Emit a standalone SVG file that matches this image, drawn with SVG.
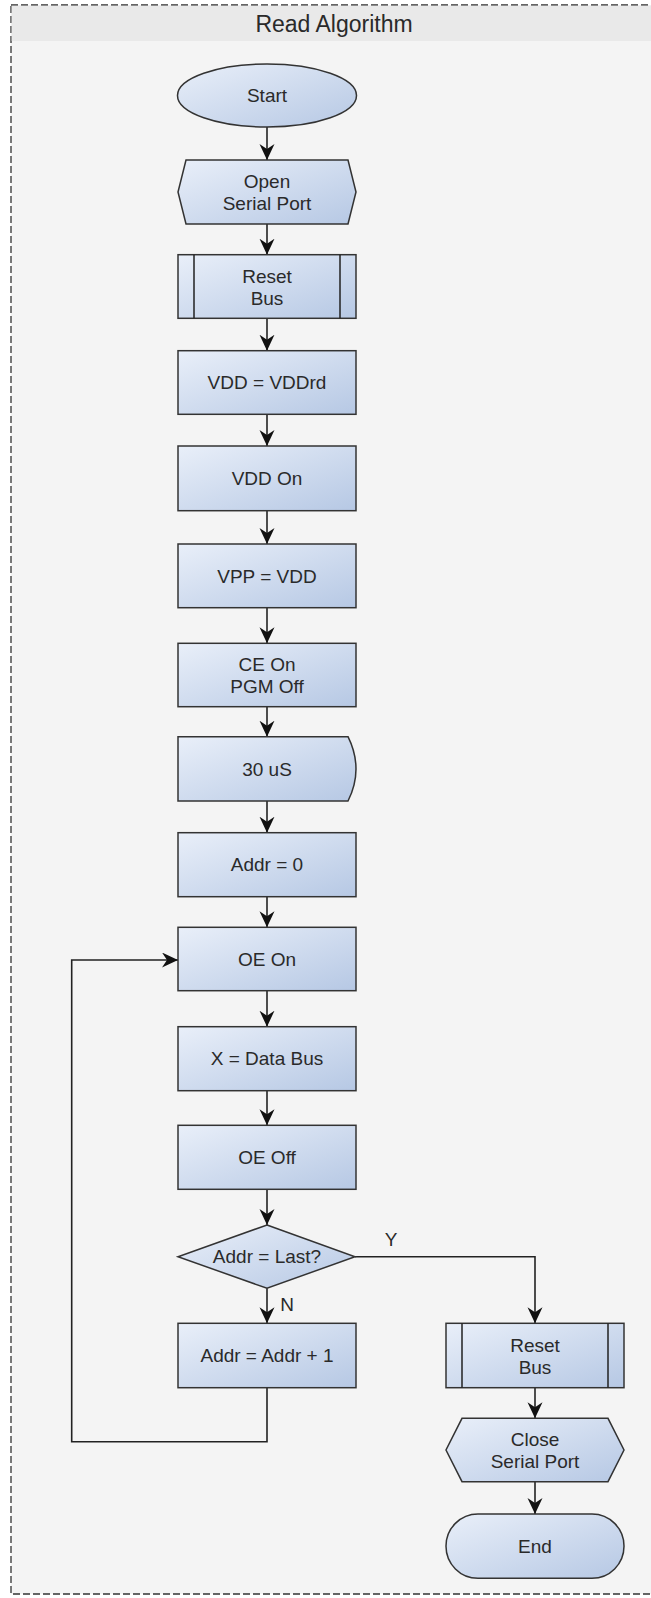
<svg xmlns="http://www.w3.org/2000/svg" width="651" height="1598" viewBox="0 0 651 1598">
<defs>
<linearGradient id="g" x1="0" y1="0" x2="1" y2="1">
<stop offset="0" stop-color="#e9eff9"/>
<stop offset="1" stop-color="#b6c8e4"/>
</linearGradient>
<marker id="ah" markerUnits="userSpaceOnUse" markerWidth="18" markerHeight="16" refX="16" refY="7.5" orient="auto">
<path d="M0,0 L16,7.5 L0,15 L5,7.5 Z" fill="#111"/>
</marker>
<style>
.n{fill:url(#g);stroke:#333;stroke-width:1.5}
.t{font-family:"Liberation Sans",Arial,sans-serif;font-size:19px;fill:#2a2a2a;text-anchor:middle}
.c{fill:none;stroke:#222;stroke-width:1.5}
.ca{fill:none;stroke:#222;stroke-width:1.6;marker-end:url(#ah)}
</style>
</defs>
<rect x="0" y="0" width="651" height="1598" fill="#ffffff"/>
<g id="container">
<rect x="11" y="5" width="700" height="1589" fill="#f4f4f4" stroke="#333" stroke-width="1.3" stroke-dasharray="7 3"/>
<rect x="11.7" y="5.7" width="700" height="35.3" fill="#e9e9e9"/>
<text x="334" y="32" font-family="'Liberation Sans',Arial,sans-serif" font-size="23" fill="#2a2a2a" text-anchor="middle">Read Algorithm</text>
</g>
<g id="connectors">
<path class="ca" d="M267,127 V160"/>
<path class="ca" d="M267,224 V254.7"/>
<path class="ca" d="M267,318.3 V350.7"/>
<path class="ca" d="M267,414.3 V446"/>
<path class="ca" d="M267,510.7 V544"/>
<path class="ca" d="M267,607.7 V643.3"/>
<path class="ca" d="M267,706.7 V736.7"/>
<path class="ca" d="M267,801 V832.7"/>
<path class="ca" d="M267,896.7 V927.3"/>
<path class="ca" d="M267,990.7 V1026.7"/>
<path class="ca" d="M267,1090.7 V1125.3"/>
<path class="ca" d="M267,1189.3 V1225"/>
<path class="ca" d="M267,1288.3 V1323.3"/>
<path class="ca" d="M355,1256.7 H535 V1323.3"/>
<path class="ca" d="M267,1387.7 V1441.7 H71.7 V960 H178"/>
<path class="ca" d="M535,1387.7 V1418.3"/>
<path class="ca" d="M535,1481.7 V1514"/>
<text class="t" x="391" y="1246">Y</text>
<text class="t" x="287" y="1311">N</text>
</g>
<g id="start">
<ellipse class="n" cx="267" cy="95.5" rx="89.5" ry="31.5"/>
<text class="t" x="267" y="102">Start</text>
</g>
<g id="open-serial-port">
<path class="n" d="M186,160 H348 L356,192 L348,224 H186 L178,192 Z"/>
<text class="t" x="267" y="188">Open</text>
<text class="t" x="267" y="210">Serial Port</text>
</g>
<g id="reset-bus-1">
<rect class="n" x="178" y="254.7" width="178" height="63.6"/>
<path class="c" d="M194,254.7 V318.3 M340,254.7 V318.3"/>
<text class="t" x="267" y="283">Reset</text>
<text class="t" x="267" y="305">Bus</text>
</g>
<g id="vdd-vddrd">
<rect class="n" x="178" y="350.7" width="178" height="63.6"/>
<text class="t" x="267" y="389">VDD = VDDrd</text>
</g>
<g id="vdd-on">
<rect class="n" x="178" y="446" width="178" height="64.7"/>
<text class="t" x="267" y="485">VDD On</text>
</g>
<g id="vpp-vdd">
<rect class="n" x="178" y="544" width="178" height="63.7"/>
<text class="t" x="267" y="583">VPP = VDD</text>
</g>
<g id="ce-on-pgm-off">
<rect class="n" x="178" y="643.3" width="178" height="63.4"/>
<text class="t" x="267" y="671">CE On</text>
<text class="t" x="267" y="693">PGM Off</text>
</g>
<g id="delay-30us">
<path class="n" d="M178,736.7 H348 Q364,769 348,801 H178 Z"/>
<text class="t" x="267" y="776">30 uS</text>
</g>
<g id="addr-0">
<rect class="n" x="178" y="832.7" width="178" height="64"/>
<text class="t" x="267" y="871">Addr = 0</text>
</g>
<g id="oe-on">
<rect class="n" x="178" y="927.3" width="178" height="63.4"/>
<text class="t" x="267" y="966">OE On</text>
</g>
<g id="x-data-bus">
<rect class="n" x="178" y="1026.7" width="178" height="64"/>
<text class="t" x="267" y="1065">X = Data Bus</text>
</g>
<g id="oe-off">
<rect class="n" x="178" y="1125.3" width="178" height="64"/>
<text class="t" x="267" y="1164">OE Off</text>
</g>
<g id="addr-last">
<path class="n" d="M267,1225 L355,1256.7 L267,1288.3 L178,1256.7 Z"/>
<text class="t" x="267" y="1263">Addr = Last?</text>
</g>
<g id="addr-inc">
<rect class="n" x="178" y="1323.3" width="178" height="64.4"/>
<text class="t" x="267" y="1362">Addr = Addr + 1</text>
</g>
<g id="reset-bus-2">
<rect class="n" x="446" y="1323.3" width="178" height="64.4"/>
<path class="c" d="M462,1323.3 V1387.7 M608,1323.3 V1387.7"/>
<text class="t" x="535" y="1352">Reset</text>
<text class="t" x="535" y="1374">Bus</text>
</g>
<g id="close-serial-port">
<path class="n" d="M462,1418.3 H608 L624,1450 L608,1481.7 H462 L446,1450 Z"/>
<text class="t" x="535" y="1446">Close</text>
<text class="t" x="535" y="1468">Serial Port</text>
</g>
<g id="end">
<rect class="n" x="446" y="1514" width="178" height="64.3" rx="32" ry="32"/>
<text class="t" x="535" y="1553">End</text>
</g>
</svg>
